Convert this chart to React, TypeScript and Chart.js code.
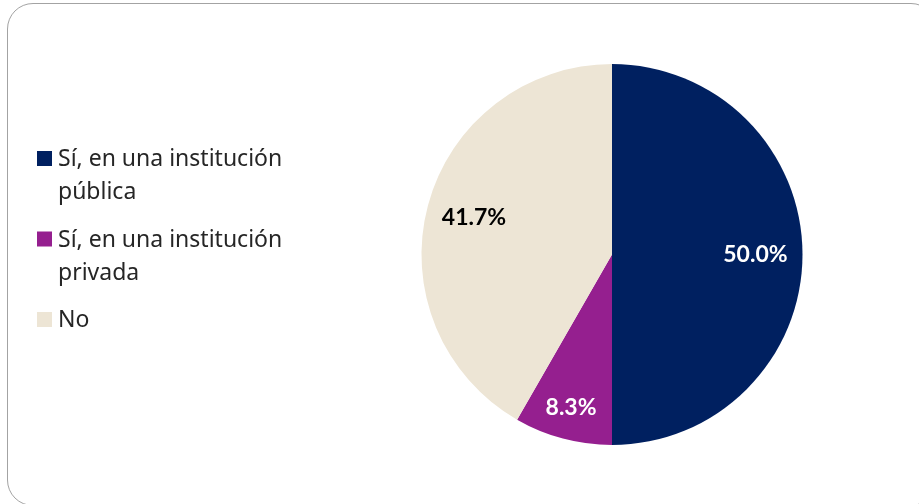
import React, { useEffect, useRef } from "react";
import { Chart, registerables } from "chart.js";

Chart.register(...registerables);

// ---- data ----
const categories: string[][] = [
  ["Sí, en una institución", "pública"],
  ["Sí, en una institución", "privada"],
  ["No"],
];
const values: number[] = [50.0, 8.3, 41.7];
const sliceColors: string[] = ["#002060", "#951F8F", "#EDE5D5"];
const valueLabelColors: string[] = ["#FFFFFF", "#FFFFFF", "#000000"];

// label distance from centre as fraction of radius (style)
const labelRadius: number[] = [0.753, 0.834, 0.75];

const pieLabels = {
  id: "pieLabels",
  afterDatasetsDraw(chart: any) {
    const ctx = chart.ctx;
    const meta = chart.getDatasetMeta(0);
    ctx.save();
    ctx.font = "bold 23px Lato, 'Noto Sans', sans-serif";
    ctx.textAlign = "center";
    ctx.textBaseline = "middle";
    meta.data.forEach((arc: any, i: number) => {
      const { x, y, startAngle, endAngle, outerRadius } = arc.getProps(
        ["x", "y", "startAngle", "endAngle", "outerRadius"],
        true
      );
      const mid = (startAngle + endAngle) / 2;
      const d = outerRadius * labelRadius[i];
      ctx.fillStyle = valueLabelColors[i];
      ctx.fillText(values[i].toFixed(1) + "%", x + d * Math.cos(mid), y + d * Math.sin(mid));
    });
    ctx.restore();
  },
};

const sideLegend = {
  id: "sideLegend",
  afterDraw(chart: any) {
    const ctx = chart.ctx;
    const labels = chart.data.labels as string[][];
    const bg = chart.data.datasets[0].backgroundColor as string[];
    const boxX = 37;
    const box = 15;
    const textX = 58;
    const lineH = 33;
    const gap = 14.5;
    let baseline = 166;
    ctx.save();
    ctx.font = "23px 'Noto Sans', sans-serif";
    ctx.textAlign = "left";
    ctx.textBaseline = "alphabetic";
    labels.forEach((lines, i) => {
      ctx.fillStyle = bg[i];
      ctx.fillRect(boxX, baseline - box, box, box);
      ctx.fillStyle = "#262626";
      lines.forEach((ln, j) => ctx.fillText(ln, textX, baseline + j * lineH));
      baseline += lines.length * lineH + gap;
    });
    ctx.restore();
  },
};

export default function App() {
  const ref = useRef<HTMLCanvasElement>(null);
  useEffect(() => {
    if (!ref.current) return;
    const chart = new Chart(ref.current, {
      type: "pie",
      data: {
        labels: categories as any,
        datasets: [
          {
            data: values,
            backgroundColor: sliceColors,
            borderWidth: 0,
          },
        ],
      },
      options: {
        animation: false,
        responsive: false,
        devicePixelRatio: 1,
        layout: { padding: { top: 64, bottom: 59, left: 421.5, right: 116.5 } },
        plugins: {
          legend: { display: false },
          tooltip: { enabled: false },
        },
      },
      plugins: [pieLabels, sideLegend],
    });
    return () => chart.destroy();
  }, []);
  return (
    <div
      style={{
        position: "fixed",
        left: 0,
        top: 0,
        width: 919,
        height: 504,
        overflow: "hidden",
        background: "#ffffff",
      }}
    >
      <div
        style={{
          position: "absolute",
          left: 7,
          top: 3,
          width: 930,
          height: 503,
          boxSizing: "border-box",
          border: "1.5px solid #a3a3a3",
          borderRadius: 26,
        }}
      />
      <canvas
        ref={ref}
        width={919}
        height={504}
        style={{ position: "absolute", left: 0, top: 0, width: 919, height: 504 }}
      />
    </div>
  );
}
